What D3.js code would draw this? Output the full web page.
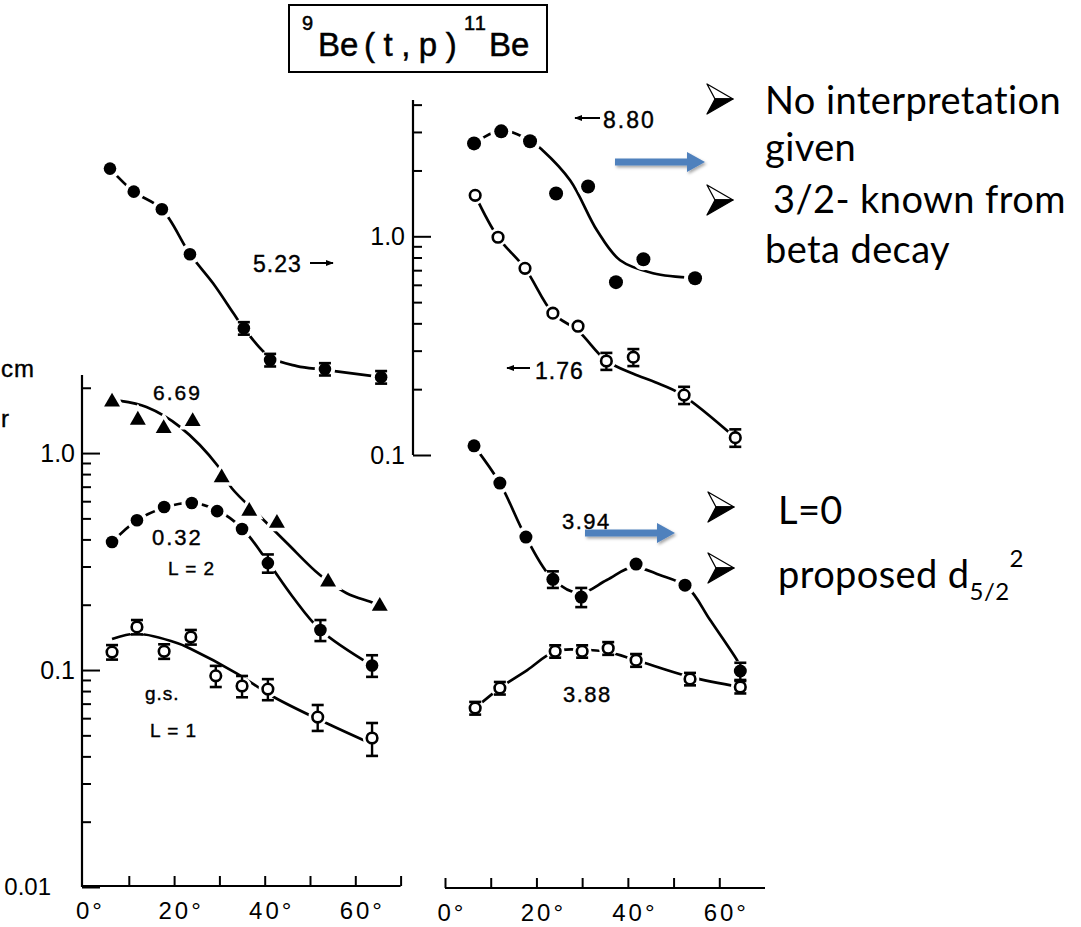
<!DOCTYPE html>
<html><head><meta charset="utf-8">
<script src="https://cdn.jsdelivr.net/npm/d3@7"></script>
<style>body{margin:0;background:#fff}svg{display:block}</style>
</head><body>
<svg id="c" width="1081" height="927"></svg>
<script>
// ===== DATA (angles in degrees c.m., cross sections in mb/sr) =====
// Left panel (lower): 6.69 MeV triangles
const ang669 = [6.3, 12.0, 17.7, 24.1, 30.5, 36.6, 42.7, 54.0, 65.4];
const val669 = [1.72, 1.42, 1.30, 1.40, 0.77, 0.54, 0.475, 0.255, 0.197];
const fitAng669 = [8.1, 13.9, 21.3, 29.8, 32.7, 39.0, 44.9, 52.2, 58.1, 63.9, 65.4];
const fitVal669 = [1.74, 1.63, 1.32, 0.865, 0.69, 0.51, 0.385, 0.274, 0.226, 0.204, 0.197];
// 0.32 MeV, L=2 filled circles
const ang032 = [6.3, 11.8, 17.8, 23.9, 29.5, 35.0, 40.7, 52.3, 63.7];
const val032 = [0.389, 0.49, 0.564, 0.589, 0.54, 0.447, 0.311, 0.153, 0.105];
const err032 = [0, 0, 0, 0, 0, 0, 0.03, 0.017, 0.012];
const fitAng032 = [6.3, 11.8, 17.8, 23.9, 29.5, 35.0, 40.7, 46.0, 52.3, 63.7];
const fitVal032 = [0.389, 0.49, 0.56, 0.59, 0.545, 0.45, 0.315, 0.22, 0.153, 0.105];
// g.s., L=1 open circles
const angGS = [6.3, 11.8, 17.8, 23.7, 29.2, 35.0, 40.7, 51.7, 63.7];
const valGS = [0.121, 0.158, 0.122, 0.142, 0.094, 0.0844, 0.0817, 0.0607, 0.0486];
const errGS = [0.0093, 0.012, 0.0094, 0.011, 0.0105, 0.0095, 0.0091, 0.0083, 0.0084];
const fitAngGS = [6.3, 11.8, 20.8, 23.4, 33.8, 41.9, 53.7, 63.2];
const fitValGS = [0.139, 0.147, 0.133, 0.126, 0.0966, 0.0753, 0.0568, 0.0461];
// 5.23 MeV (upper left, read on right-hand upper axis)
const ang523 = [5.85, 11.1, 17.3, 23.5, 35.4, 41.2, 53.3, 65.7];
const val523 = [2.04, 1.60, 1.33, 0.828, 0.38, 0.272, 0.247, 0.227];
const err523 = [0, 0, 0, 0, 0.025, 0.018, 0.016, 0.015];
const fitAng523 = [5.85, 11.1, 17.3, 23.5, 28.6, 33.1, 35.4, 41.2, 47.1, 53.3, 65.7];
const fitVal523 = [2.04, 1.6, 1.33, 0.83, 0.61, 0.445, 0.38, 0.28, 0.255, 0.245, 0.227];
// 8.80 MeV filled circles (upper right)
const ang880 = [6.35, 12.3, 18.6, 24.3, 31.3, 37.4, 43.4, 54.7];
const val880 = [2.66, 3.02, 2.72, 1.57, 1.69, 0.617, 0.785, 0.643];
const fitAng880 = [6.35, 12.3, 18.6, 21.4, 27.4, 33.3, 38.3, 45.5, 54.7];
const fitVal880 = [2.66, 3.05, 2.74, 2.47, 1.80, 1.06, 0.777, 0.678, 0.645];
// 1.76 MeV open circles (upper right)
const ang176 = [6.6, 11.6, 17.5, 23.6, 29.1, 35.3, 41.2, 52.3, 63.5];
const val176 = [1.54, 0.99, 0.714, 0.445, 0.388, 0.269, 0.28, 0.188, 0.12];
const err176 = [0, 0, 0, 0, 0, 0.024, 0.025, 0.017, 0.011];
const fitAng176 = [6.6, 11.6, 17.5, 23.6, 29.1, 35.3, 41.2, 46.0, 51.6, 63.5];
const fitVal176 = [1.54, 0.99, 0.714, 0.445, 0.37, 0.27, 0.235, 0.215, 0.19, 0.12];
// 3.94 MeV filled circles (lower right)
const ang394 = [6.35, 12.0, 17.7, 23.6, 29.8, 41.8, 52.5, 64.6];
const val394 = [1.08, 0.727, 0.41, 0.262, 0.217, 0.308, 0.246, 0.099];
const err394 = [0, 0, 0, 0.023, 0.022, 0, 0, 0.009];
const fitAng394 = [6.35, 12.0, 17.7, 23.6, 29.5, 35.4, 41.1, 47.0, 53.0, 58.0, 63.9, 64.6];
const fitVal394 = [1.08, 0.727, 0.41, 0.262, 0.226, 0.26, 0.298, 0.274, 0.241, 0.17, 0.111, 0.104];
// 3.88 MeV open circles (lower right)
const ang388 = [6.6, 12.0, 24.1, 30.0, 35.7, 41.8, 53.6, 64.6];
const val388 = [0.0668, 0.0826, 0.122, 0.122, 0.126, 0.111, 0.091, 0.0835];
const err388 = [0.0045, 0.0055, 0.008, 0.008, 0.0085, 0.0075, 0.006, 0.0055];
const fitAng388 = [6.6, 12.0, 18.0, 24.1, 30.0, 35.7, 41.8, 53.6, 64.6];
const fitVal388 = [0.0668, 0.0826, 0.1, 0.122, 0.124, 0.121, 0.111, 0.093, 0.0835];

// Ticks
const yMajorL = [0.01, 0.1, 1];
const yMajorLabelsL = ["0.01", "0.1", "1.0"];
const yMinorL = [0.02,0.03,0.04,0.05,0.06,0.07,0.08,0.09,0.2,0.3,0.4,0.5,0.6,0.7,0.8,0.9,2];
const yMajorR = [0.1, 1];
const yMajorLabelsR = ["0.1", "1.0"];
const yMinorR = [0.2,0.3,0.4,0.5,0.6,0.7,0.8,0.9,2,3,4];
const xTicksL = [10,20,30,40,50,60,70];
const xTicksR = [0,10,20,30,40,50,60];
const xLabelVals = [0,20,40,60];
const xLabels = ["0°","20°","40°","60°"];

// ===== SCALES =====
const svg = d3.select("#c");
const xL = d3.scaleLinear().domain([0,70]).range([83.5,400.6]);
const xR = d3.scaleLinear().domain([0,70]).range([445,765]);
const yL = d3.scaleLog().domain([0.01,2.29]).range([887,375]);
const yR = d3.scaleLog().domain([0.1,4.2]).range([455,100]);

const FONT = "'Liberation Sans', Arial, sans-serif";

// ===== AXES =====
function yAxis(x0, y, majors, labels, minors, pad) {
  const g = svg.append("g").attr("transform", `translate(${x0},0)`);
  g.append("line").attr("x1",0).attr("x2",0)
    .attr("y1", y.range()[0]).attr("y2", y.range()[1])
    .attr("stroke","#000").attr("stroke-width",2.2);
  const gm = g.append("g").call(d3.axisLeft(y).tickValues(majors).tickSizeInner(-18).tickSizeOuter(0)
    .tickPadding(pad).tickFormat((d,i)=>labels[i]));
  const gn = g.append("g").call(d3.axisLeft(y).tickValues(minors).tickSizeInner(-9).tickSizeOuter(0).tickFormat(""));
  [gm, gn].forEach(a => {
    a.select(".domain").remove();
    a.selectAll("line").attr("stroke","#000").attr("stroke-width",2);
  });
  gm.selectAll("text").attr("font-family",FONT).attr("font-size",25).attr("fill","#000");
  return gm;
}
const gyl = yAxis(82, yL, yMajorL, yMajorLabelsL, yMinorL, 7);
gyl.selectAll("text").filter(d => d === 0.01).attr("dx", -24).attr("font-size",24);
yAxis(413, yR, yMajorR, yMajorLabelsR, yMinorR, 8);

function xAxis(x, y0, ticks, startX) {
  const g = svg.append("g").attr("transform", `translate(0,${y0})`);
  g.append("line").attr("x1", startX).attr("x2", x.range()[1]).attr("y1",0).attr("y2",0)
    .attr("stroke","#000").attr("stroke-width",2.2);
  const a = g.append("g").call(d3.axisBottom(x).tickValues(ticks).tickSizeInner(-10).tickSizeOuter(0).tickFormat(""));
  a.select(".domain").remove();
  a.selectAll("line").attr("stroke","#000").attr("stroke-width",2);
  g.selectAll("text.lab").data(xLabelVals).enter().append("text").attr("class","lab")
    .attr("x", d => x(d) + 7).attr("y", 33).attr("text-anchor","middle")
    .attr("font-family",FONT).attr("font-size",24).attr("letter-spacing",3)
    .text((d,i)=>xLabels[i]);
}
xAxis(xL, 886, xTicksL, 82);
xAxis(xR, 888, xTicksR, xR(0));

// ===== SERIES =====
const lineGen = (x,y) => d3.line().x(d=>x(d[0])).y(d=>y(d[1])).curve(d3.curveCatmullRom.alpha(0.5));
const series = [
  {a:ang669, v:val669, e:null,   fa:fitAng669, fv:fitVal669, x:xL, y:yL, m:"tri"},
  {a:ang032, v:val032, e:err032, fa:fitAng032, fv:fitVal032, x:xL, y:yL, m:"fill", r:6.3},
  {a:angGS,  v:valGS,  e:errGS,  fa:fitAngGS,  fv:fitValGS,  x:xL, y:yL, m:"open", r:5.3},
  {a:ang523, v:val523, e:err523, fa:fitAng523, fv:fitVal523, x:xL, y:yR, m:"fill", r:6.3},
  {a:ang880, v:val880, e:null,   fa:fitAng880, fv:fitVal880, x:xR, y:yR, m:"fill", r:7},
  {a:ang176, v:val176, e:err176, fa:fitAng176, fv:fitVal176, x:xR, y:yR, m:"open", r:5.3},
  {a:ang394, v:val394, e:err394, fa:fitAng394, fv:fitVal394, x:xR, y:yL, m:"fill", r:6.5},
  {a:ang388, v:val388, e:err388, fa:fitAng388, fv:fitVal388, x:xR, y:yL, m:"open", r:5.3}
];
const gLines = svg.append("g"), gHalo = svg.append("g"), gErr = svg.append("g"), gMark = svg.append("g");
series.forEach(s => {
  const fit = s.fa.map((a,i)=>[a, s.fv[i]]);
  gLines.append("path").datum(fit).attr("d", lineGen(s.x,s.y))
    .attr("fill","none").attr("stroke","#000").attr("stroke-width",2.7);
  const pts = s.a.map((a,i)=>({a, v:s.v[i], e: s.e ? s.e[i] : 0}));
  pts.forEach(p => {
    const cx = s.x(p.a), cy = s.y(p.v);
    if (s.m === "tri") {
      gHalo.append("path").attr("d", d3.symbol(d3.symbolTriangle, 110)())
        .attr("transform",`translate(${cx},${cy})`).attr("fill","#fff").attr("stroke","#fff").attr("stroke-width",7);
      gMark.append("path").attr("d", d3.symbol(d3.symbolTriangle, 110)())
        .attr("transform",`translate(${cx},${cy})`).attr("fill","#000");
    } else {
      gHalo.append("circle").attr("cx",cx).attr("cy",cy).attr("r", s.r + 4).attr("fill","#fff");
      if (p.e > 0) {
        const y1 = s.y(p.v + p.e), y2 = s.y(p.v - p.e);
        gErr.append("line").attr("x1",cx).attr("x2",cx).attr("y1",y1).attr("y2",y2)
          .attr("stroke","#000").attr("stroke-width",2.4);
        [y1,y2].forEach(yy => gErr.append("line").attr("x1",cx-6).attr("x2",cx+6).attr("y1",yy).attr("y2",yy)
          .attr("stroke","#000").attr("stroke-width",2.6));
      }
      if (s.m === "fill") {
        gMark.append("circle").attr("cx",cx).attr("cy",cy).attr("r",s.r).attr("fill","#000");
      } else {
        gMark.append("circle").attr("cx",cx).attr("cy",cy).attr("r",s.r).attr("fill","#fff")
          .attr("stroke","#000").attr("stroke-width",2.6);
      }
    }
  });
});

// ===== CHART LABELS =====
const lab = (x, y, t, size, ls) => svg.append("text").attr("x",x).attr("y",y).text(t)
  .attr("font-family",FONT).attr("font-size",size||23).attr("letter-spacing",ls||1).attr("fill","#000")
  .attr("stroke","#000").attr("stroke-width",0.4);
lab(253, 272, "5.23");
lab(603, 128, "8.80", 23, 2);
lab(535, 379, "1.76");
lab(562, 529, "3.94", 22, 1.5);
lab(563, 702, "3.88", 22, 1.5);
lab(153, 400, "6.69", 21, 2);
lab(152, 545, "0.32", 22, 2);
lab(168, 575, "L = 2", 19, 0);
lab(145, 700, "g.s.", 19, 1);
lab(150, 737, "L = 1", 19, 0);
lab(1, 377, "cm", 24, 0);
lab(1, 427, "r", 24, 0);

// small black arrows
const defs = svg.append("defs");
defs.append("marker").attr("id","ah").attr("viewBox","0 0 10 10").attr("refX",9).attr("refY",5)
  .attr("markerWidth",4).attr("markerHeight",4).attr("orient","auto-start-reverse")
  .append("path").attr("d","M0,1 L10,5 L0,9 Z").attr("fill","#000");
const blackArrow = (x1,y1,x2,y2) => svg.append("line").attr("x1",x1).attr("y1",y1).attr("x2",x2).attr("y2",y2)
  .attr("stroke","#000").attr("stroke-width",2).attr("marker-end","url(#ah)");
blackArrow(310, 263, 333, 263);
blackArrow(600, 118, 575, 118);
blackArrow(530, 368, 507, 368);

// title
svg.append("rect").attr("x",289).attr("y",5).attr("width",258).attr("height",67)
  .attr("fill","none").attr("stroke","#000").attr("stroke-width",2);
const title = svg.append("text").attr("font-family",FONT).attr("fill","#000")
  .attr("stroke","#000").attr("stroke-width",0.5);
title.append("tspan").attr("x",302).attr("y",30).attr("font-size",20).text("9");
title.append("tspan").attr("x",318).attr("y",56).attr("font-size",33).text("Be");
title.append("tspan").attr("x",364).attr("y",56).attr("font-size",33).attr("letter-spacing",8.5).text("(t,p)");
title.append("tspan").attr("x",464).attr("y",30).attr("font-size",20).attr("letter-spacing",1).text("11");
title.append("tspan").attr("x",489).attr("y",56).attr("font-size",33).text("Be");

// ===== SLIDE ANNOTATIONS =====
const shadow = defs.append("filter").attr("id","sh").attr("x","-20%").attr("y","-50%").attr("width","140%").attr("height","200%");
shadow.append("feDropShadow").attr("dx",1.5).attr("dy",2).attr("stdDeviation",1.5).attr("flood-opacity",0.35);
function blueArrow(x1, x2, y) {
  const g = svg.append("g").attr("filter","url(#sh)");
  g.append("rect").attr("x",x1).attr("y",y-3.5).attr("width",x2-x1-17).attr("height",7).attr("fill","#4F81BD");
  g.append("path").attr("d",`M${x2-18},${y-10} L${x2},${y} L${x2-18},${y+10} Z`).attr("fill","#4F81BD");
}
blueArrow(615, 705, 162);
blueArrow(585, 675, 533);

function bullet(x, y) {
  const w = 26, h = 30;
  svg.append("path").attr("d",`M${x},${y} L${x+w},${y+h/2} L${x+8},${y+h/2} Z`)
    .attr("fill","#fff").attr("stroke","#000").attr("stroke-width",1.3).attr("stroke-linejoin","round");
  svg.append("path").attr("d",`M${x+8},${y+h/2} L${x+w},${y+h/2} L${x},${y+h} Z`)
    .attr("fill","#000").attr("stroke","#000").attr("stroke-width",1.3).attr("stroke-linejoin","round");
}
bullet(707, 84); bullet(707, 185); bullet(708, 492); bullet(708, 553);

const SF = "Lato, 'Open Sans', sans-serif";
const st = (x, y, t) => svg.append("text").attr("x",x).attr("y",y).attr("font-family",SF)
  .attr("font-size",38).attr("letter-spacing",0.4).attr("fill","#000").text(t);
st(765, 114, "No interpretation");
st(765, 161, "given");
st(773, 213, "3/2- known from");
st(765, 263, "beta decay");
st(778, 524, "L=0");
const p = svg.append("text").attr("font-family",SF).attr("font-size",38).attr("letter-spacing",0.4).attr("fill","#000");
p.append("tspan").attr("x",778).attr("y",588).text("proposed d");
p.append("tspan").attr("dy",12).attr("font-size",24).text("5/2");
p.append("tspan").attr("dy",-33).attr("font-size",24).text("2");
</script>
</body></html>
